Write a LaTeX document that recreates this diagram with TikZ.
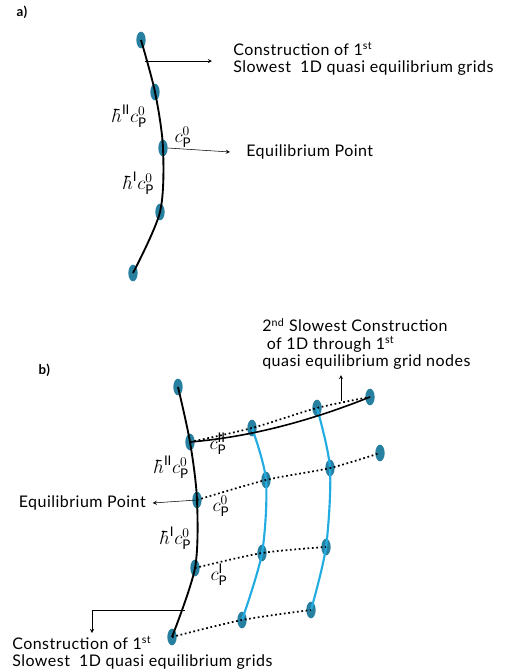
\documentclass[tikz,border=0pt]{standalone}
\usepackage{fontspec}
\setmainfont[LetterSpace=3]{Lato}
\usetikzlibrary{shapes.geometric}
\definecolor{gridteal}{RGB}{40,128,160}
\definecolor{gridblue}{RGB}{35,172,226}
\tikzset{
  gnode/.style={ellipse,fill=gridteal,inner sep=0pt,minimum width=7pt,minimum height=12.5pt},
  curve/.style={line width=1.4pt,black},
  bluecurve/.style={line width=1.6pt,gridblue},
  dotline/.style={line width=1.3pt,dotted},
  pointer/.style={->,>=stealth,thin},
  txt/.style={font=\fontsize{12}{13}\selectfont,align=left,inner sep=0pt},
  mlbl/.style={font=\Large,inner sep=0pt}
}
\begin{document}
\begin{tikzpicture}[x=0.75pt,y=-0.75pt]
\useasboundingbox (0,0) rectangle (507,672);
\node[font=\bfseries,anchor=west] (la) at (12,12) {a)};
\node[font=\bfseries,anchor=west] (lb) at (34,370) {b)};
% a)
\foreach \n/\x/\y in {a1/141/40,a2/155/92,a3/163/148,a4/160/212,a5/133/273}
  \node[gnode] (\n) at (\x,\y) {};
\draw[curve] plot[smooth] coordinates {(a1.center) (a2.center) (a3.center) (a4.center) (a5.center)};
\coordinate (pa) at (145,61);
\coordinate (qa) at (212,61);
\draw[pointer] (pa) -- (qa);
\node[txt,anchor=north west] (ta) at (233,42) {Construction of 1\textsuperscript{st}\\Slowest\ \ 1D quasi equilibrium grids};
\node[txt,anchor=west] (eqa) at (246,152) {Equilibrium Point};
\draw[pointer] (a3.east) -- ([xshift=-12pt]eqa.west);
\node[mlbl] (ha2) at (130,116) {$\hbar^{\mathrm{II}}c_{\mathrm{P}}^{0}$};
\node[mlbl] (ha1) at (139,183) {$\hbar^{\mathrm{I}}c_{\mathrm{P}}^{0}$};
\node[mlbl] (ca) at (183,137) {$c_{\mathrm{P}}^{0}$};
% b)
\foreach \n/\x/\y in {b1/178/387,b2/190/442,b3/197/500,b4/195/568,b5/172/637,
  c1/252/428,c2/266/480,c3/262/553,c4/242/620,
  d1/317/408,d2/330/468,d3/326/547,d4/311/610,
  e1/370/397,e2/380/453}
  \node[gnode] (\n) at (\x,\y) {};
\draw[bluecurve] plot[smooth] coordinates {(c1.center) (c2.center) (c3.center) (c4.center)};
\draw[bluecurve] plot[smooth] coordinates {(d1.center) (d2.center) (d3.center) (d4.center)};
\draw[dotline] plot[smooth] coordinates {(b2.center) (c1.center) (d1.center) (e1.center)};
\draw[dotline] plot[smooth] coordinates {(b3.center) (c2.center) (d2.center) (e2.center)};
\draw[dotline] plot[smooth] coordinates {(b4.center) (c3.center) (d3.center)};
\draw[dotline] plot[smooth] coordinates {(b5.center) (c4.center) (d4.center)};
\draw[curve] plot[smooth] coordinates {(b1.center) (b2.center) (b3.center) (b4.center) (b5.center)};
\draw[line width=1.2pt] (b2.center) .. controls (250,437) and (310,421) .. (e1.center);
\node[txt,anchor=north west] (tb) at (262,318) {2\textsuperscript{nd} Slowest Construction\\\ of 1D through 1\textsuperscript{st}\\quasi equilibrium grid nodes};
\coordinate (pb) at (341,401);
\coordinate (qb) at (341,375);
\draw[pointer] (pb) -- (qb);
\node[txt,anchor=east] (eqb) at (146,503) {Equilibrium Point};
\draw[pointer] (b3.center) -- ([xshift=5pt]eqb.east);
\coordinate (pc) at (185,610);
\coordinate (pd) at (92,633);
\draw[pointer] (pc) -| (pd);
\node[txt,anchor=north west] (tc) at (12,636) {Construction of 1\textsuperscript{st}\\Slowest\ \ 1D quasi equilibrium grids};
\node[mlbl] (hb2) at (172,467) {$\hbar^{\mathrm{II}}c_{\mathrm{P}}^{0}$};
\node[mlbl] (hb1) at (176,538) {$\hbar^{\mathrm{I}}c_{\mathrm{P}}^{0}$};
\node[mlbl] (cb2) at (218,444) {$c_{\mathrm{P}}^{\mathrm{II}}$};
\node[mlbl] (cb0) at (221,506) {$c_{\mathrm{P}}^{0}$};
\node[mlbl] (cb1) at (219,575) {$c_{\mathrm{P}}^{\mathrm{I}}$};
\end{tikzpicture}
\end{document}
